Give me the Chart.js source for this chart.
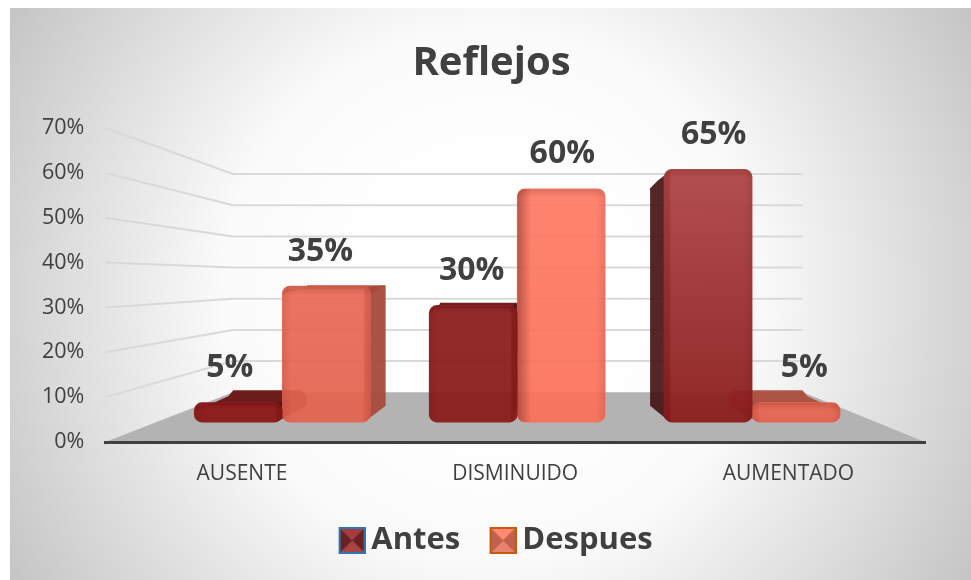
<!DOCTYPE html>
<html><head><meta charset="utf-8">
<style>html,body{margin:0;padding:0;background:#fff}#wrap{position:relative;width:971px;height:580px}</style>
<script src="https://cdn.jsdelivr.net/npm/chart.js@4"></script></head>
<body><div id="wrap"><canvas id="c" width="971" height="580"></canvas></div>
<script>
const categories=['AUSENTE','DISMINUIDO','AUMENTADO'];
const antes=[5,30,65];
const despues=[35,60,5];
const seriesNames=['Antes','Despues'];
const yTicks=[0,10,20,30,40,50,60,70];
const antesTop=['rgba(143,26,26,.95)','rgba(142,31,31,.95)','rgba(176,70,70,.95)'];
const antesBottom=['rgba(138,22,22,.95)','rgba(138,28,28,.95)','rgba(138,28,28,.95)'];
const despuesTop=['rgba(232,106,86,.93)','rgba(255,122,100,.93)','rgba(238,106,85,.93)'];
const despuesBottom=['rgba(227,98,78,.93)','rgba(250,112,90,.93)','rgba(228,96,76,.93)'];
const FONT='"Open Sans"';
const VP={x:524,y:279}, WALL=0.695, BAR=0.9;

function grad(c,tops,bots,vals){
  const i=c.dataIndex,s=c.chart.scales.yBars;
  if(!s)return tops[i];
  const a=s.getPixelForValue(vals[i]),b=s.getPixelForValue(0);
  if(!isFinite(a)||!isFinite(b))return tops[i];
  const g=c.chart.ctx.createLinearGradient(0,a,0,b);
  g.addColorStop(0,tops[i]);g.addColorStop(1,bots[i]);return g;
}
function swatch(face,edge){
  const s=27,off=13,c=document.createElement('canvas');c.width=off+s;c.height=s;const x=c.getContext('2d');
  x.translate(off,0);
  x.fillStyle=edge;x.fillRect(0,0,s,s);
  const a=2,b=s-2,m=s/2;
  [[face[0],[a,a,b,a,m,m]],[face[1],[b,a,b,b,m,m]],[face[2],[a,b,b,b,m,m]],[face[3],[a,a,a,b,m,m]]].forEach(([col,p])=>{
    x.fillStyle=col;x.beginPath();x.moveTo(p[0],p[1]);x.lineTo(p[2],p[3]);x.lineTo(p[4],p[5]);x.closePath();x.fill();});
  return c;
}
const swatches=[swatch(['#a83c3c','#6e2020','#a84444','#6e2020'],'#2e75b6'),swatch(['#ff8a72','#c06250','#e8826e','#c06250'],'#c55a11')];

const scene={id:'scene',
  afterLayout(chart){
    const lg=chart.legend,tb=chart.titleBlock;
    lg.left+=17;lg.right+=17;tb.left+=14.5;tb.right+=14.5;
  },
  beforeDraw(chart){
    const {ctx,chartArea:ca,scales}=chart;const y=scales.y;
    ctx.save();
    const g=ctx.createRadialGradient(490,295,130,490,295,590);
    g.addColorStop(0,'#ffffff');g.addColorStop(0.3,'#fafafa');g.addColorStop(1,'#bfbfbf');
    ctx.fillStyle=g;ctx.fillRect(10,8,961,572);
    const bx=v=>VP.x+(v-VP.x)*WALL, by=v=>VP.y+(v-VP.y)*WALL;
    const fy=y.getPixelForValue(0);
    ctx.fillStyle='#b3b3b3';ctx.beginPath();
    ctx.moveTo(ca.left,fy);ctx.lineTo(ca.right,fy);ctx.lineTo(bx(ca.right),by(fy));ctx.lineTo(bx(ca.left),by(fy));ctx.closePath();ctx.fill();
    ctx.strokeStyle='#d9d9d9';ctx.lineWidth=2;
    yTicks.slice(1).forEach(t=>{const p=y.getPixelForValue(t);
      ctx.beginPath();ctx.moveTo(ca.left,p);ctx.lineTo(bx(ca.left),by(p));ctx.lineTo(bx(ca.right),by(p));ctx.stroke();});
    ctx.restore();
  },
  beforeDatasetsDraw(chart){
    const {ctx}=chart;ctx.save();ctx.lineJoin='round';
    const colors=[{top:'rgba(105,20,20,.95)',side:'rgba(70,20,20,.92)'},{top:'rgba(172,78,62,.95)',side:'rgba(165,75,60,.95)'}];
    const tx=v=>VP.x+(v-VP.x)*BAR, ty=v=>VP.y+(v-VP.y)*BAR;
    const poly=(pts,col)=>{ctx.fillStyle=col;ctx.beginPath();pts.forEach((a,i)=>i?ctx.lineTo(a[0],a[1]):ctx.moveTo(a[0],a[1]));ctx.closePath();ctx.fill();};
    [1,0].forEach(d=>{chart.getDatasetMeta(d).data.forEach(b=>{
      const p=b.getProps(['x','y','base','width'],true);
      const L=p.x-p.width/2,R=p.x+p.width/2,T=p.y,B=p.base;
      const depth=T-ty(T);
      if(depth>0){const c=Math.min(6,depth*.6);
        poly([[L,T+9],[L+3,T+3],[R-3,T+3],[R,T+9],[tx(R)-1,ty(T)+c],[tx(R)-c,ty(T)],[tx(L)+c,ty(T)],[tx(L)+1,ty(T)+c]],colors[d].top);}
      const c2=T>VP.y?Math.min(6,depth*.6):8;
      if(R<VP.x) poly([[R-6,T+2],[tx(R)-c2,ty(T)],[tx(R),ty(T)+c2],[tx(R),ty(B)-2],[R-6,B]],colors[d].side);
      if(L>VP.x) poly([[L+6,T+2],[tx(L)+c2,ty(T)],[tx(L),ty(T)+c2],[tx(L),ty(B)-2],[L+6,B]],colors[d].side);
    });});
    ctx.restore();
  },
  afterDatasetsDraw(chart){
    const {ctx}=chart;ctx.save();
    [1,0].forEach(d=>{chart.getDatasetMeta(d).data.forEach(b=>{
      const p=b.getProps(['x','y','base','width'],true);
      const L=p.x-p.width/2,R=p.x+p.width/2,T=p.y,B=p.base,w=9;
      const band=(x0,y0,x1,y1,a,rx,ry,rw,rh)=>{const g=ctx.createLinearGradient(x0,y0,x1,y1);
        g.addColorStop(0,`rgba(60,0,0,${a})`);g.addColorStop(1,'rgba(60,0,0,0)');ctx.fillStyle=g;ctx.fillRect(rx,ry,rw,rh);};
      ctx.save();ctx.beginPath();ctx.roundRect(L,T,R-L,B-T,8);ctx.clip();
      band(0,T,0,T+w,.16,L,T,R-L,w);
      band(R,0,R-w,0,.1,R-w,T,w,B-T);
      const facing=L<VP.x+10&&R>VP.x;
      band(L,0,L+(facing?14:w),0,facing?.35:.1,L,T,facing?14:w,B-T);
      ctx.restore();
    });});
    ctx.fillStyle='#404040';ctx.textAlign='center';ctx.textBaseline='middle';
    ctx.font='bold 32px '+FONT;
    [0,1].forEach(d=>{const vals=chart.data.datasets[d].data;chart.getDatasetMeta(d).data.forEach((b,i)=>{
      const p=b.getProps(['x','y'],true);
      ctx.fillText(vals[i].y+'%',VP.x+(p.x-VP.x)*1.03,p.y-34.5);});});
    ctx.restore();
  }
};

new Chart(document.getElementById('c'),{
  type:'bar',
  data:{labels:categories,datasets:[
    {label:seriesNames[0],data:antes.map((v,i)=>({x:i+1,y:v})),xAxisID:'xBars',yAxisID:'yBars',
     backgroundColor:c=>grad(c,antesTop,antesBottom,antes),borderRadius:8,borderSkipped:false,borderWidth:0,barThickness:88},
    {label:seriesNames[1],data:despues.map((v,i)=>({x:i+1,y:v})),xAxisID:'xBars',yAxisID:'yBars',
     backgroundColor:c=>grad(c,despuesTop,despuesBottom,despues),borderRadius:8,borderSkipped:false,borderWidth:0,barThickness:88}
  ]},
  options:{responsive:false,animation:false,
    layout:{padding:{left:29,right:46,top:18,bottom:14}},
    scales:{
      x:{type:'category',labels:categories,offset:true,grid:{display:false},border:{display:true,color:'#404040',width:3},
         ticks:{color:'#404040',font:{family:FONT,size:21},padding:11,maxRotation:0},afterFit(s){s.height=57;}},
      y:{min:0,max:70,afterBuildTicks(a){a.ticks=yTicks.map(v=>({value:v}));},grid:{display:false},border:{display:false},
         ticks:{color:'#404040',font:{family:FONT,size:21.5},padding:13,callback:v=>v+'%'}},
      xBars:{type:'linear',display:false,bounds:'data',min:0.2468,max:3.736,offset:false},
      yBars:{type:'linear',display:false,bounds:'data',min:-5.13,max:75.64}
    },
    plugins:{
      tooltip:{enabled:false},
      title:{display:true,text:'Reflejos',color:'#404040',font:{family:FONT,size:40,weight:'bold'},padding:{top:22,bottom:40}},
      legend:{position:'bottom',labels:{usePointStyle:true,boxWidth:20.5,padding:26,color:'#404040',font:{family:FONT,size:31,weight:'bold'},
        generateLabels(chart){return chart.data.datasets.map((d,i)=>({text:d.label,datasetIndex:i,pointStyle:swatches[i],fontColor:'#404040',lineWidth:0}));}}}
    }
  },
  plugins:[scene]
});
</script></body></html>
